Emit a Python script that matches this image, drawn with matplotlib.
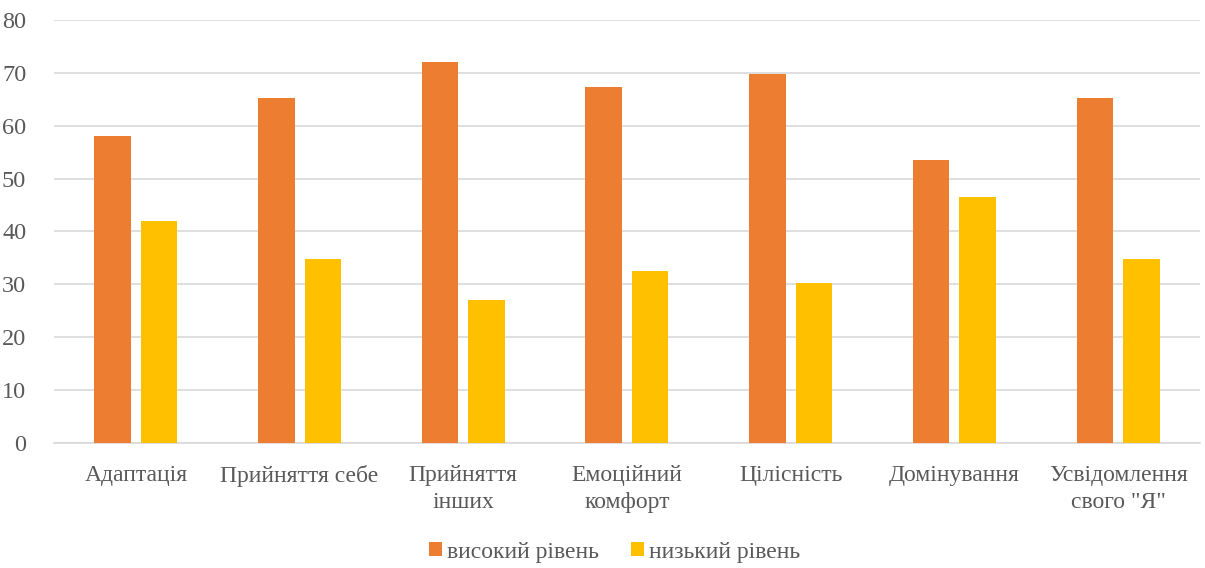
import matplotlib.pyplot as plt
import numpy as np

# Дані для діаграми
categories = ["Адаптація", "Прийняття себе", "Прийняття\nінших", "Емоційний\nкомфорт",
              "Цілісність", "Домінування", "Усвідомлення\nсвого \"Я\""]
high = [58.1, 65.2, 72.1, 67.4, 69.8, 53.5, 65.2]
low = [41.9, 34.8, 27.1, 32.6, 30.2, 46.5, 34.8]
series_names = ["високий рівень", "низький рівень"]
yticks = [0, 10, 20, 30, 40, 50, 60, 70, 80]

plt.rcParams['font.family'] = ['Liberation Serif', 'DejaVu Serif']
text_color = '#595959'
grid_color = '#d9d9d9'

fig = plt.figure(figsize=(12.05, 5.68), dpi=100)
ax = fig.add_axes([0.0448, 0.22, 0.951, 0.745])

x = np.arange(len(categories))
w = 0.223
ax.bar(x - 0.142, high, w, color='#ED7D31', label=series_names[0], zorder=3)
ax.bar(x + 0.142, low, w, color='#FFC000', label=series_names[1], zorder=3)

ax.set_xlim(-0.5, len(categories) - 0.5)
ax.set_ylim(0, 80)
ax.set_yticks(yticks)
ax.set_xticks(x)
ax.set_xticklabels(categories, fontsize=17, color=text_color, linespacing=1.35)
ax.tick_params(axis='y', labelsize=17.5, colors=text_color, length=0, pad=20)
ax.tick_params(axis='x', length=0, pad=16)
ax.yaxis.grid(True, color=grid_color, linewidth=1.2, zorder=0)

for s in ['top', 'right', 'left']:
    ax.spines[s].set_visible(False)
ax.spines['bottom'].set_color(grid_color)
ax.spines['bottom'].set_linewidth(1.2)

leg = fig.legend(loc='center', bbox_to_anchor=(0.51, 0.028), ncol=2, frameon=False,
                 fontsize=17, handlelength=0.55, handleheight=0.55, handletextpad=0.2,
                 columnspacing=1.35)
for t in leg.get_texts():
    t.set_color(text_color)

fig.savefig('out.png', dpi=100)
